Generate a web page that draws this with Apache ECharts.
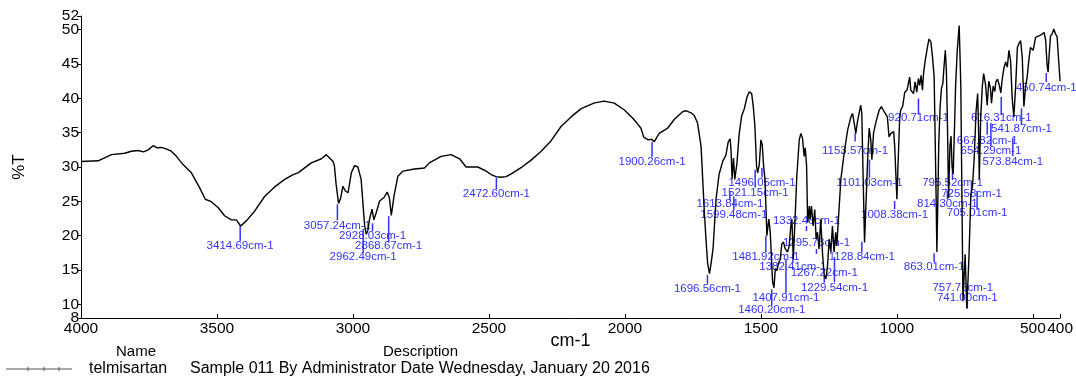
<!DOCTYPE html>
<html>
<head>
<meta charset="utf-8">
<script src="https://cdn.jsdelivr.net/npm/echarts@6/dist/echarts.min.js"></script>
<style>
html,body{margin:0;padding:0;background:#fff;}
#chart{width:1076px;height:376px;}
</style>
</head>
<body>
<div id="chart"></div>
<script>
// ---- Data ----
const wavenumbers = [
4000,3937,3888,3839,3815,3790,3770,3753,3735,3720,3704,3685,3668,3649,3625,3594,3564,3543,3521,3496,
3472,3447,3429,3413,3392,3361,3325,3288,3251,3220,3202,3190,3153,3116,3098,3086,3073,3068,3062,3053,
3045,3037,3028,3018,3006,2994,2982,2970,2957,2951,2945,2939,2930,2923,2914,2902,2886,2874,2866,2859,
2849,2835,2816,2774,2737,2719,2676,2639,2608,2584,2541,2510,2492,2474,2455,2437,2418,2382,2345,2308,
2272,2235,2198,2161,2112,2076,2039,2002,1971,1956,1941,1931,1914,1902,1892,1874,1843,1818,1788,1776,
1757,1745,1733,1720,1708,1702,1696,1689,1683,1676,1665,1654,1640,1629,1620,1613,1610,1606,1601,1596,
1588,1580,1571,1561,1551,1543,1534,1528,1522,1516,1512,1506,1500,1495,1490,1485,1478,1471,1466,1457,
1452,1447,1441,1436,1429,1423,1417,1411,1402,1396,1390,1386,1381,1375,1368,1359,1353,1347,1341,1337,
1332,1328,1322,1319,1314,1308,1302,1297,1292,1286,1280,1273,1267,1261,1255,1249,1243,1237,1231,1225,
1221,1215,1206,1194,1181,1169,1163,1157,1151,1145,1139,1133,1129,1124,1119,1114,1108,1102,1096,1092,
1086,1078,1065,1057,1047,1035,1029,1022,1012,1008,1000,996,990,986,979,971,963,959,953,949,
943,939,933,927,921,916,911,906,902,896,888,882,875,869,863,860,856,853,850,846,
841,836,831,827,822,818,814,810,805,801,797,793,788,784,778,771,765,762,757,749,
743,738,735,728,722,716,709,703,700,697,692,686,681,674,668,662,656,652,646,640,
636,630,624,618,612,606,600,594,588,582,576,570,563,557,551,545,539,533,527,521,
515,509,503,499,490,478,468,459,453,448,444,439,435,429,423,417,411,406,400
];
const transmittance = [
30.8,30.9,31.8,32.0,32.3,32.4,32.2,32.5,33.1,32.8,32.85,32.6,32.3,31.55,30.35,29.15,27.0,25.3,24.95,24.1,
22.9,22.3,22.3,21.4,22.15,23.6,25.7,27.1,28.2,28.9,29.15,29.5,30.6,31.2,31.8,31.3,30.8,30.1,27.5,24.7,
25.5,27.2,26.5,26.25,29.15,30.2,30.0,28.2,21.4,20.2,20.8,22.4,23.85,22.3,23.4,25.05,25.55,26.35,25.5,22.95,
25.8,28.65,29.4,29.7,29.85,30.6,31.55,31.8,31.2,30.0,30.0,29.4,28.9,28.6,28.5,28.6,29.0,29.9,31.0,32.3,
33.8,35.9,37.3,38.5,39.35,39.6,39.3,38.3,37.1,36.4,35.65,34.35,33.95,34.05,33.7,34.9,35.65,36.95,38.05,38.2,
37.9,37.5,36.4,33.0,23.4,19.5,16.0,14.45,16.0,18.1,25.3,28.9,30.9,31.65,33.7,34.1,32.5,28.3,31.3,28.2,
30.6,34.75,37.4,38.5,40.2,40.95,40.7,38.8,35.9,30.1,29.15,30.35,33.96,33.2,30.1,28.2,20.0,22.4,20.7,13.25,
12.4,15.2,14.9,15.9,16.6,18.8,19.1,18.1,17.6,18.5,21.4,22.4,16.6,21.9,28.65,33.96,34.9,34.2,31.55,32.8,
30.1,21.9,24.3,22.4,24.3,21.4,23.8,19.5,20.5,18.06,22.4,17.1,14.2,13.7,15.65,19.5,17.6,21.4,17.6,20.5,
18.5,22.4,28.2,32.0,35.4,37.3,37.8,36.4,34.9,36.6,37.8,39.0,37.8,28.2,19.0,24.3,30.6,35.65,33.96,31.07,
34.9,36.4,38.3,38.8,38.05,37.3,34.4,34.9,35.15,33.0,25.3,30.1,36.85,38.3,38.8,40.9,41.2,41.9,43.1,41.2,
41.4,40.7,42.4,40.9,42.9,41.9,43.35,41.2,43.6,45.5,47.4,48.65,48.2,46.0,43.1,35.9,26.3,17.6,23.85,33.5,
38.8,41.5,42.15,44.5,47.0,44.0,36.0,25.5,33.0,34.5,30.0,29.0,36.0,42.0,47.0,50.6,42.0,30.0,10.5,17.3,
9.4,14.0,17.0,26.0,27.2,31.1,38.0,40.7,36.0,28.2,37.0,41.7,43.6,42.0,39.0,42.5,41.5,39.3,41.8,41.0,
42.4,42.8,42.0,40.8,43.0,44.5,45.3,44.55,47.0,45.5,40.0,37.3,42.0,47.4,48.0,48.4,46.0,38.8,41.7,43.1,
45.5,47.4,47.6,47.0,48.9,49.1,49.3,49.6,48.5,45.0,43.8,47.0,49.1,49.4,50.1,49.4,49.0,46.0,42.5
];

// Peak annotations: wavenumber, tick top (%T), tick bottom (%T), label centre (%T)
const peakWn = [3414.69,3057.24,2962.49,2928.03,2868.67,2472.60,1900.26,1696.56,1613.84,1599.48,
1521.15,1496.05,1481.92,1460.20,1407.91,1382.41,1332.46,1295.73,1267.22,1229.54,
1128.84,1153.57,1101.03,1008.38,920.71,863.01,795.52,814.30,725.58,705.01,
757.76,741.00,667.82,654.29,616.31,573.84,541.87,450.74];
const peakTickTop = [21.39,24.57,20.95,21.8,22.83,28.47,33.67,14.3,26.45,25.72,
29.6,29.9,19.99,12.18,16.62,17.34,21.39,18.06,14.2,16.86,
19.12,34.93,31.07,25.04,39.99,17.44,30.1,26.5,27.93,26.5,
14.44,10.4,36.6,36.4,40.2,34.2,38.54,43.7];
const peakTickBottom = [19.22,22.25,17.49,20.66,19.08,26.73,31.5,13.0,25.14,23.7,
27.0,28.47,17.58,9.87,11.56,16.04,20.66,17.34,13.15,13.25,
17.58,33.72,28.43,23.84,37.72,16.14,28.18,25.3,26.5,23.84,
13.15,9.4,34.7,33.0,37.57,31.55,36.13,42.4];
const peakLabelT = [18.5,21.39,16.9,19.94,18.5,26.16,30.78,12.28,24.57,23.1,
26.2,27.75,16.9,9.25,10.94,15.46,22.11,18.9,14.55,12.43,
16.9,32.37,27.75,23.1,37.14,15.46,27.75,24.7,26.16,23.27,
12.43,11.0,33.86,32.37,37.1,30.74,35.5,41.57];

const xTicks = [4000,3500,3000,2500,2000,1500,1000,500,400];
const yTicks = [8,10,15,20,25,30,35,40,45,50,52];
const yTicksCrowded = [10,50];   // labels drawn on an overlaid axis so they are not hidden

const sampleName = 'telmisartan';
const sampleDesc = 'Sample 011 By Administrator Date Wednesday, January 20 2016';

// ---- Chart ----
const FONT = '"Liberation Sans", Arial, sans-serif';
const BLUE = '#3232ff';
const spectrum = wavenumbers.map((w, i) => [w, transmittance[i]]);
const peaks = peakWn.map((w, i) => [w, peakTickTop[i], peakTickBottom[i], peakLabelT[i]]);
const yLabelsMain = yTicks.filter(v => yTicksCrowded.indexOf(v) < 0);

const yLabelStyle = {fontFamily: FONT, fontSize: 15.5, color: '#000', margin: 2,
                     showMinLabel: true, showMaxLabel: true, hideOverlap: false,
                     formatter: v => String(v)};

const chart = echarts.init(document.getElementById('chart'), null, {renderer: 'canvas'});
chart.setOption({
  animation: false,
  backgroundColor: '#fff',
  grid: {left: 81, right: 15, top: 16, bottom: 58, containLabel: false},
  xAxis: {
    type: 'value', inverse: true, min: 400, max: 4000,
    name: 'cm-1', nameLocation: 'middle', nameGap: 14, nameMoveOverlap: false,
    nameTextStyle: {fontFamily: FONT, fontSize: 18, color: '#000'},
    axisLine: {lineStyle: {color: '#000', width: 1}},
    axisTick: {inside: true, length: 4, lineStyle: {color: '#000'}, customValues: xTicks},
    axisLabel: {fontFamily: FONT, fontSize: 15.5, color: '#000', margin: 3, customValues: xTicks,
                showMinLabel: true, showMaxLabel: true, hideOverlap: false,
                formatter: v => String(v)},
    splitLine: {show: false}
  },
  yAxis: [
    {
      type: 'value', min: 8, max: 52, position: 'left',
      name: '%T', nameLocation: 'middle', nameRotate: 90, nameGap: 53, nameMoveOverlap: false,
      nameTextStyle: {fontFamily: FONT, fontSize: 17, color: '#000'},
      axisLine: {onZero: false, lineStyle: {color: '#000', width: 1}},
      axisTick: {length: 4, lineStyle: {color: '#000'}, customValues: yTicks},
      axisLabel: Object.assign({customValues: yLabelsMain}, yLabelStyle),
      splitLine: {show: false}
    },
    {
      type: 'value', min: 8, max: 52, position: 'left', offset: 0,
      axisLine: {show: false, onZero: false},
      axisTick: {show: false},
      axisLabel: Object.assign({customValues: yTicksCrowded}, yLabelStyle),
      splitLine: {show: false}
    }
  ],
  series: [
    {
      type: 'line', data: spectrum, showSymbol: false, symbol: 'none', yAxisIndex: 0,
      lineStyle: {color: '#000', width: 1.4}, silent: true
    },
    {
      type: 'custom', data: peaks, encode: {x: 0, y: [1, 2, 3]}, silent: true, yAxisIndex: 0,
      renderItem: function (params, api) {
        const top = api.coord([api.value(0), api.value(1)]);
        const bot = api.coord([api.value(0), api.value(2)]);
        const lab = api.coord([api.value(0), api.value(3)]);
        const txt = peakWn[params.dataIndex].toFixed(2) + 'cm-1';
        return {
          type: 'group',
          children: [
            {type: 'line', shape: {x1: top[0], y1: top[1], x2: bot[0], y2: bot[1]},
             style: {stroke: BLUE, lineWidth: 1.5}},
            {type: 'text', x: lab[0], y: lab[1],
             style: {text: txt, fill: BLUE, font: '11.5px ' + FONT,
                     textAlign: 'center', textVerticalAlign: 'middle',
                     align: 'center', verticalAlign: 'middle'}}
          ]
        };
      }
    }
  ],
  graphic: [
    {type: 'text', left: 116, top: 344, style: {text: 'Name', font: '15px ' + FONT, fill: '#000'}},
    {type: 'text', left: 383, top: 344, style: {text: 'Description', font: '15px ' + FONT, fill: '#000'}},
    {type: 'line', shape: {x1: 6, y1: 369, x2: 72, y2: 369}, style: {stroke: '#555', lineWidth: 1}},
    {type: 'line', shape: {x1: 28, y1: 367, x2: 28, y2: 371}, style: {stroke: '#555', lineWidth: 1}},
    {type: 'line', shape: {x1: 44, y1: 367, x2: 44, y2: 371}, style: {stroke: '#555', lineWidth: 1}},
    {type: 'line', shape: {x1: 59, y1: 367, x2: 59, y2: 371}, style: {stroke: '#555', lineWidth: 1}},
    {type: 'text', left: 89, top: 361, style: {text: sampleName, font: '16px ' + FONT, fill: '#000'}},
    {type: 'text', left: 190, top: 361, style: {text: sampleDesc, font: '16px ' + FONT, fill: '#000'}}
  ]
});
</script>
</body>
</html>
